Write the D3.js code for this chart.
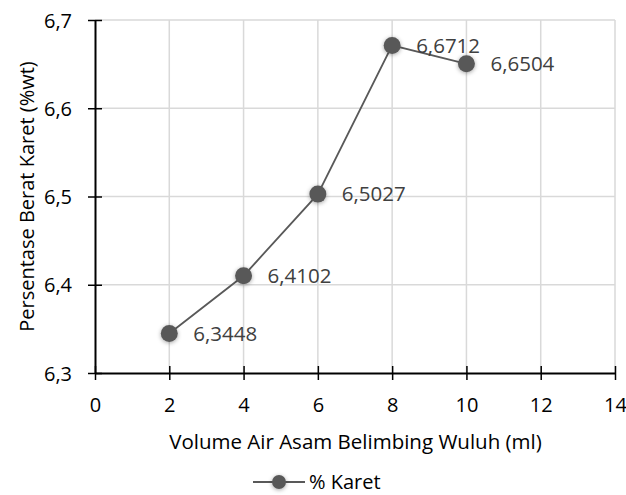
<!DOCTYPE html>
<html>
<head>
<meta charset="utf-8">
<script src="https://cdn.jsdelivr.net/npm/d3@7"></script>
<style>
  body { margin: 0; background: #fff; }
  text { font-family: "Open Sans", "Noto Sans", sans-serif; }
</style>
</head>
<body>
<div id="chart"></div>
<script>
// data
var volumes = [2, 4, 6, 8, 10];
var karet = [6.3448, 6.4102, 6.5027, 6.6712, 6.6504];
var karetLabels = ["6,3448", "6,4102", "6,5027", "6,6712", "6,6504"];
var xTicks = [0, 2, 4, 6, 8, 10, 12, 14];
var yTicks = [6.3, 6.4, 6.5, 6.6, 6.7];

var margin = { top: 20, right: 11, bottom: 122, left: 95 },
    width = 626 - margin.left - margin.right,
    height = 495 - margin.top - margin.bottom;

var svg = d3.select("#chart")
  .append("svg")
    .attr("width", 626)
    .attr("height", 495)
  .append("g")
    .attr("transform", "translate(" + margin.left + "," + margin.top + ")");

var defs = svg.append("defs");
var shadow = defs.append("filter").attr("id", "shadow")
    .attr("x", "-50%").attr("y", "-50%").attr("width", "200%").attr("height", "200%");
shadow.append("feDropShadow")
    .attr("dx", 0).attr("dy", 1).attr("stdDeviation", 2)
    .attr("flood-color", "#000").attr("flood-opacity", 0.35);

var x = d3.scaleLinear().domain([0, 14]).range([0, width]);
var y = d3.scaleLinear().domain([6.3, 6.7]).range([height, 0]);

// gridlines
svg.append("g")
  .selectAll("line")
  .data(xTicks.slice(1))
  .enter()
  .append("line")
    .attr("x1", function (d) { return x(d); })
    .attr("x2", function (d) { return x(d); })
    .attr("y1", 0)
    .attr("y2", height)
    .attr("stroke", "#d9d9d9")
    .attr("stroke-width", 1.5);

svg.append("g")
  .selectAll("line")
  .data(yTicks.slice(1))
  .enter()
  .append("line")
    .attr("x1", 0)
    .attr("x2", width)
    .attr("y1", function (d) { return y(d); })
    .attr("y2", function (d) { return y(d); })
    .attr("stroke", "#d9d9d9")
    .attr("stroke-width", 1.5);

// axes
var fmt = function (d) { return d3.format(".1f")(d).replace(".", ","); };

var xAxis = svg.append("g")
    .attr("transform", "translate(0," + height + ")")
    .call(d3.axisBottom(x).tickValues(xTicks).tickSize(7).tickSizeOuter(0));
xAxis.selectAll(".tick line").attr("y1", -7).attr("stroke", "#000").attr("stroke-width", 1.5);
xAxis.select(".domain").attr("stroke", "#000").attr("stroke-width", 2);
xAxis.selectAll("text").attr("dy", 0).attr("y", 39)
    .style("font-size", "20px").attr("fill", "#000");

var yAxis = svg.append("g")
    .call(d3.axisLeft(y).tickValues(yTicks).tickFormat(fmt).tickSize(7).tickSizeOuter(0));
yAxis.selectAll(".tick line").attr("x1", 7).attr("stroke", "#000").attr("stroke-width", 1.5);
yAxis.select(".domain").attr("stroke", "#000").attr("stroke-width", 2);
yAxis.selectAll("text").attr("x", -23).attr("dy", "0.35em")
    .style("font-size", "20px").attr("fill", "#000");

// axis titles
svg.append("text")
    .attr("x", width / 2 + 0.5)
    .attr("y", height + 76)
    .attr("text-anchor", "middle")
    .style("font-size", "20.5px")
    .attr("fill", "#000")
    .text("Volume Air Asam Belimbing Wuluh (ml)");

svg.append("text")
    .attr("transform", "rotate(-90)")
    .attr("x", -height / 2)
    .attr("y", -61)
    .attr("text-anchor", "middle")
    .style("font-size", "20px")
    .attr("fill", "#000")
    .text("Persentase Berat Karet (%wt)");

// line + markers
var line = d3.line()
    .x(function (d, i) { return x(volumes[i]); })
    .y(function (d) { return y(d); });

svg.append("path")
    .datum(karet)
    .attr("fill", "none")
    .attr("stroke", "#595959")
    .attr("stroke-width", 1.8)
    .attr("d", line);

svg.append("g")
  .selectAll("circle")
  .data(karet)
  .enter()
  .append("circle")
    .attr("cx", function (d, i) { return x(volumes[i]); })
    .attr("cy", function (d) { return y(d); })
    .attr("r", 8.5)
    .attr("fill", "#595959")
    .attr("filter", "url(#shadow)");

svg.append("g")
  .selectAll("text")
  .data(karet)
  .enter()
  .append("text")
    .attr("x", function (d, i) { return x(volumes[i]) + 24; })
    .attr("y", function (d) { return y(d); })
    .attr("dy", "0.35em")
    .style("font-size", "20.5px")
    .attr("fill", "#404040")
    .text(function (d, i) { return karetLabels[i]; });

// legend
var legend = svg.append("g")
    .attr("transform", "translate(" + (253 - margin.left) + "," + (482 - margin.top) + ")");
legend.append("line")
    .attr("x1", 0).attr("x2", 52)
    .attr("stroke", "#595959").attr("stroke-width", 1.8);
legend.append("circle")
    .attr("cx", 26).attr("r", 7)
    .attr("fill", "#595959")
    .attr("filter", "url(#shadow)");
legend.append("text")
    .attr("x", 56).attr("dy", "0.35em")
    .style("font-size", "20px")
    .attr("fill", "#000")
    .text("% Karet");
</script>
</body>
</html>
